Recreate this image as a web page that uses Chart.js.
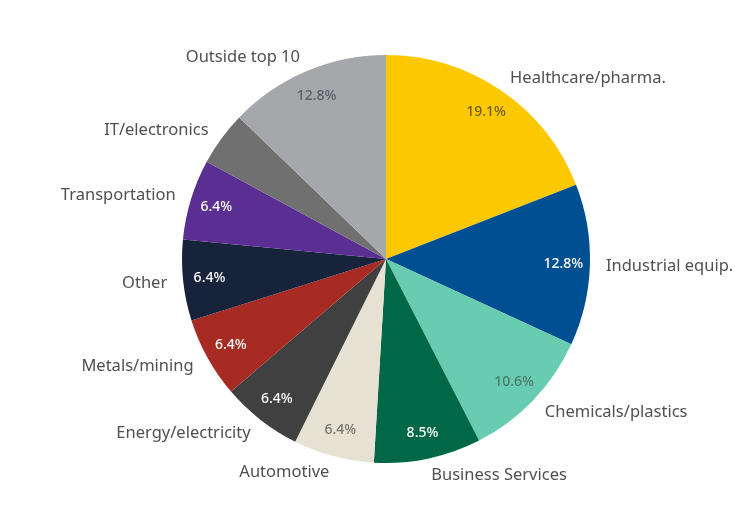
<!DOCTYPE html>
<html>
<head>
<meta charset="utf-8">
<title>Sector breakdown</title>
<script src="https://cdn.jsdelivr.net/npm/chart.js@4/dist/chart.umd.min.js"></script>
<style>
    html, body { margin: 0; padding: 0; background: #ffffff; }
    #wrap { width: 756px; height: 507px; position: relative; }
</style>
</head>
<body>
<div id="wrap"><canvas id="sectorChart"></canvas></div>
<script>
// Sector shares (%), clockwise from 12 o'clock
const categories = [
    'Healthcare/pharma.', 'Industrial equip.', 'Chemicals/plastics', 'Business Services',
    'Automotive', 'Energy/electricity', 'Metals/mining', 'Other', 'Transportation',
    'IT/electronics', 'Outside top 10'
];
const shares = [19.1, 12.8, 10.6, 8.5, 6.4, 6.4, 6.4, 6.4, 6.4, 4.3, 12.8];

const sliceColors = [
    '#fcc900', '#004f93', '#68cdb0', '#006846', '#e6e1d2', '#404040',
    '#a72b22', '#16233a', '#5b2e93', '#707070', '#a6a7ab'
];
// Colour of the percentage printed inside each slice
const valueColors = [
    '#6e5c1c', '#ffffff', '#4b7a6c', '#ffffff', '#77756e', '#ffffff',
    '#ffffff', '#ffffff', '#ffffff', '#ffffff', '#5e6068'
];

const FONT = '"Noto Sans", "Open Sans", sans-serif';

// Draws the percentage inside each slice and the category name outside it
const sliceLabels = {
    id: 'sliceLabels',
    afterDatasetsDraw(chart) {
        const ctx = chart.ctx;
        const meta = chart.getDatasetMeta(0);
        ctx.save();
        meta.data.forEach(function (arc, i) {
            const p = arc.getProps(['x', 'y', 'startAngle', 'endAngle', 'outerRadius'], true);
            const mid = (p.startAngle + p.endAngle) / 2;
            const cos = Math.cos(mid);
            const sin = Math.sin(mid);

            // value inside the slice (small slices stay unlabelled)
            if (shares[i] >= 5) {
                const r = p.outerRadius * 0.87;
                ctx.font = '500 14px ' + FONT;
                ctx.fillStyle = valueColors[i];
                ctx.textAlign = 'center';
                ctx.textBaseline = 'middle';
                ctx.fillText(shares[i].toFixed(1) + '%', p.x + cos * r, p.y + sin * r);
            }

            // category name outside
            const ro = p.outerRadius + 16;
            ctx.font = '16.5px ' + FONT;
            ctx.fillStyle = '#505050';
            ctx.textAlign = cos >= 0 ? 'left' : 'right';
            ctx.textBaseline = 'middle';
            ctx.fillText(categories[i], p.x + cos * ro, p.y + sin * ro + 1);
        });
        ctx.restore();
    }
};

new Chart(document.getElementById('sectorChart'), {
    type: 'pie',
    data: {
        labels: categories,
        datasets: [{
            data: shares,
            backgroundColor: sliceColors,
            borderWidth: 0
        }]
    },
    options: {
        responsive: true,
        maintainAspectRatio: false,
        animation: false,
        layout: {
            padding: { top: 55, bottom: 44, left: 100, right: 84 }
        },
        plugins: {
            legend: { display: false },
            tooltip: { enabled: false }
        }
    },
    plugins: [sliceLabels]
});
</script>
</body>
</html>
